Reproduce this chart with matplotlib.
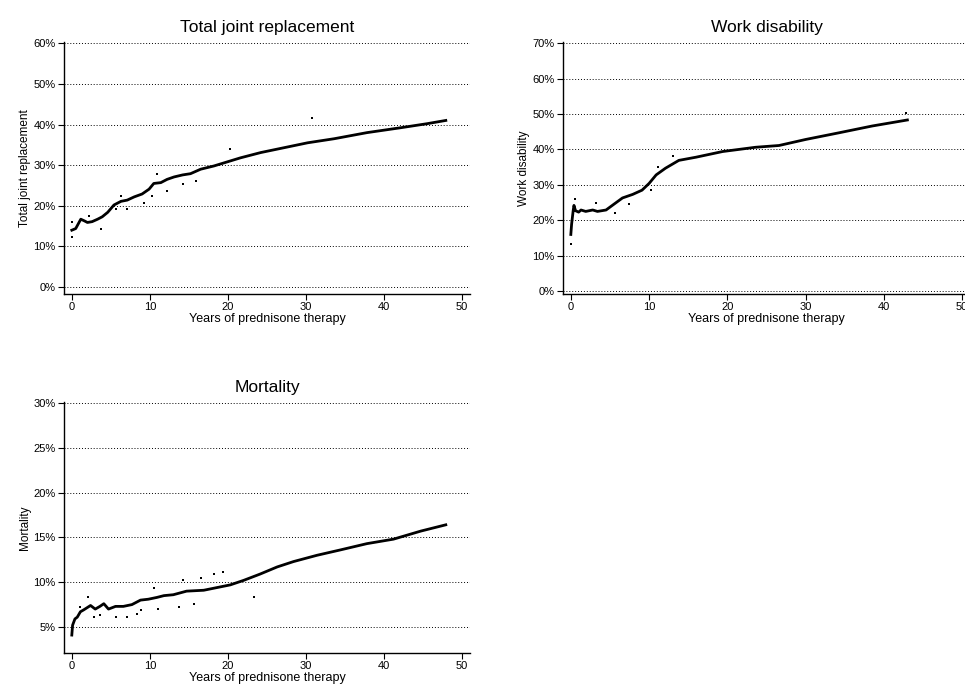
import matplotlib
matplotlib.use("Agg")
import matplotlib.pyplot as plt
from matplotlib.ticker import FuncFormatter

plt.rcParams['font.family'] = ['Liberation Sans', 'DejaVu Sans']

# ---- Data ----
tjr_years = [0, 0.5, 1.15, 1.6, 2.0, 2.6, 3.3, 3.9, 4.6, 5.4, 6.3, 7.1, 8.0, 9.0, 9.9, 10.5,
             11.4, 12.2, 13.1, 14.2, 15.2, 16.5, 18.2, 19.9, 21.6, 24.2, 27.2, 30.2, 33.6,
             37.8, 42.1, 45.5, 47.9]
tjr_pct = [14.0, 14.4, 16.7, 16.3, 15.9, 16.1, 16.7, 17.3, 18.4, 20.2, 21.1, 21.4, 22.2, 22.9,
           24.1, 25.5, 25.7, 26.5, 27.1, 27.6, 27.9, 29.0, 29.8, 30.8, 31.8, 33.1, 34.3, 35.5,
           36.5, 38.0, 39.2, 40.2, 41.0]
tjr_dot_years = [0, 0, 2.2, 3.7, 5.7, 6.3, 7.1, 9.2, 10.3, 10.9, 12.2, 14.3, 15.9, 20.3, 30.7]
tjr_dot_pct = [12.4, 15.9, 17.6, 14.3, 19.2, 22.4, 19.2, 20.8, 22.4, 27.8, 23.7, 25.3, 26.1, 33.9, 41.5]

wd_years = [0, 0.1, 0.3, 0.4, 0.6, 1.0, 1.3, 1.9, 2.8, 3.4, 4.5, 5.3, 6.6, 7.9, 9.1, 10.0, 10.9,
            12.1, 13.8, 16.0, 19.4, 23.6, 26.6, 30.0, 34.3, 38.5, 43.0]
wd_pct = [16.0, 18.9, 22.7, 24.2, 22.7, 22.3, 22.9, 22.5, 22.9, 22.5, 22.9, 24.2, 26.3, 27.3,
          28.5, 30.4, 32.8, 34.7, 36.9, 37.8, 39.4, 40.6, 41.1, 42.8, 44.7, 46.6, 48.3]
wd_dot_years = [0, 0.5, 3.2, 5.7, 7.4, 10.2, 11.1, 13.0, 42.8]
wd_dot_pct = [13.4, 26.1, 24.9, 22.0, 24.6, 28.5, 35.1, 38.0, 50.4]

mort_years = [0, 0.1, 0.4, 0.7, 1.1, 1.5, 2.4, 3.0, 3.6, 4.1, 4.7, 5.6, 6.6, 7.7, 8.8, 9.8, 10.9,
              11.8, 13.0, 14.7, 16.9, 18.6, 20.3, 22.0, 24.1, 26.3, 28.4, 31.4, 34.4, 37.8, 41.2,
              44.7, 47.9]
mort_pct = [4.1, 5.2, 5.9, 6.1, 6.7, 6.9, 7.4, 7.0, 7.3, 7.6, 7.0, 7.3, 7.3, 7.5, 8.0, 8.1, 8.3,
            8.5, 8.6, 9.0, 9.1, 9.4, 9.7, 10.2, 10.9, 11.7, 12.3, 13.0, 13.6, 14.3, 14.8, 15.7, 16.4]
mort_dot_years = [1.1, 2.1, 2.8, 3.6, 5.6, 7.1, 8.3, 8.8, 10.5, 11.1, 13.7, 14.3, 15.6, 16.5,
                  18.2, 19.4, 23.3]
mort_dot_pct = [7.2, 8.3, 6.1, 6.3, 6.1, 6.1, 6.5, 6.9, 9.4, 7.0, 7.2, 10.2, 7.6, 10.5, 10.9, 11.1, 8.4]

x_ticks = [0, 10, 20, 30, 40, 50]
tjr_yticks = [0, 10, 20, 30, 40, 50, 60]
wd_yticks = [0, 10, 20, 30, 40, 50, 60, 70]
mort_yticks = [5, 10, 15, 20, 25, 30]

titles = ["Total joint replacement", "Work disability", "Mortality"]
ylabels = ["Total joint replacement", "Work disability", "Mortality"]
xlabel = "Years of prednisone therapy"

W, H = 965, 685
fig = plt.figure(figsize=(W / 100, H / 100), dpi=100)


def px_axes(left, top, right, bottom):
    return fig.add_axes([left / W, 1 - bottom / H, (right - left) / W, (bottom - top) / H])


pct = FuncFormatter(lambda v, p: f"{v:.0f}%")


def style(ax, years, vals, dy, dv, yticks, ylim, title, ylabel):
    for t in yticks:
        ax.axhline(t, color='black', lw=0.7, ls=(0, (1, 2)), zorder=1)
    ax.plot(years, vals, color='black', lw=2.0, solid_joinstyle='round', zorder=3)
    ax.scatter(dy, dv, s=1.5, color='black', marker='s', lw=0, zorder=2)
    ax.set_xlim(-1.0, 51.0)
    ax.set_ylim(*ylim)
    ax.set_xticks(x_ticks)
    ax.set_yticks(yticks)
    ax.yaxis.set_major_formatter(pct)
    for s in ['top', 'right']:
        ax.spines[s].set_visible(False)
    for s in ['left', 'bottom']:
        ax.spines[s].set_linewidth(1.0)
    ax.tick_params(axis='both', direction='out', length=4, width=0.8, labelsize=8, pad=2)
    ax.set_title(title, fontsize=12.5, pad=7)
    ax.set_xlabel(xlabel, fontsize=9, labelpad=0.5)
    ax.set_ylabel(ylabel, fontsize=8.5, labelpad=2)


ax1 = px_axes(64, 42, 470, 294)
style(ax1, tjr_years, tjr_pct, tjr_dot_years, tjr_dot_pct, tjr_yticks, (-1.7, 60.3),
      titles[0], ylabels[0])

ax2 = px_axes(563, 42, 970, 294)
style(ax2, wd_years, wd_pct, wd_dot_years, wd_dot_pct, wd_yticks, (-0.8, 70.3),
      titles[1], ylabels[1])

ax3 = px_axes(64, 402, 470, 653)
style(ax3, mort_years, mort_pct, mort_dot_years, mort_dot_pct, mort_yticks, (2.1, 30.1),
      titles[2], ylabels[2])

fig.savefig("out.png", dpi=100, facecolor='white')
